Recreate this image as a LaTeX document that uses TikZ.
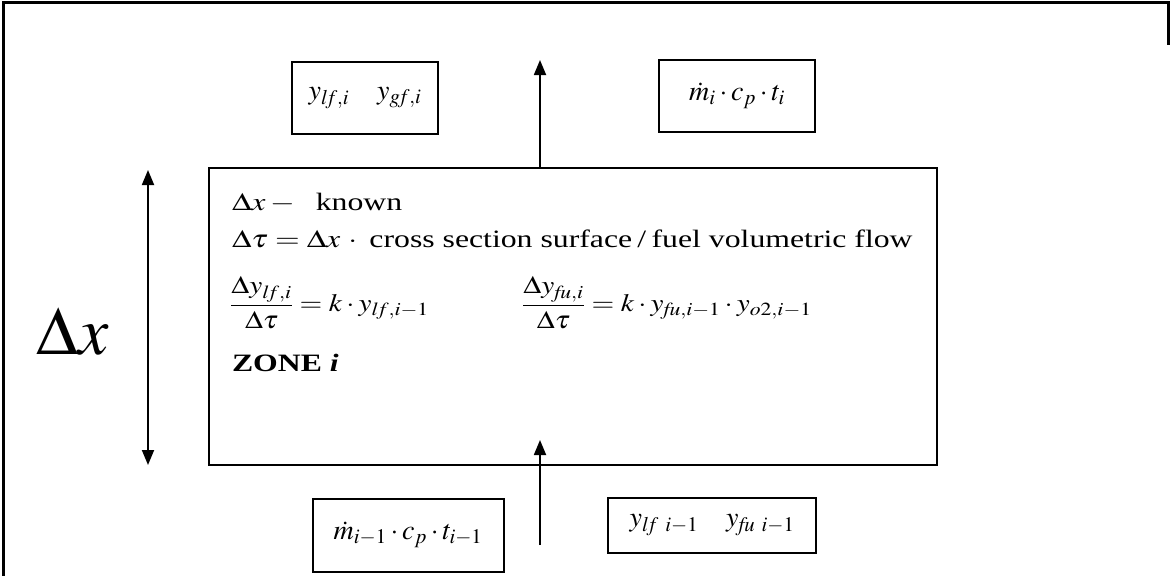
\documentclass[tikz,border=0pt]{standalone}
\usepackage{amsmath}
\usepackage{amssymb}
\usepackage{mathptmx}
\usepackage{fontspec}
\setmainfont{Liberation Serif}
\usepackage{graphicx}
\usepackage{tikz}
\usetikzlibrary{arrows.meta, positioning}
\newcommand{\hwide}[2][1.27]{\scalebox{#1}[1]{#2}}

\begin{document}
\begin{tikzpicture}[
    x=1pt, y=-1pt,
    every node/.style={inner sep=0pt, outer sep=0pt},
    databox/.style={draw, line width=2pt, font=\fontsize{28}{32}\selectfont,
                    align=center},
    zonebox/.style={draw, line width=2pt, anchor=north west,
                    minimum width=728pt, minimum height=297pt},
    zoneline/.style={anchor=base west, font=\fontsize{25}{30}\selectfont},
    arrow/.style={-{Triangle[length=15pt, width=12pt]}, line width=1.8pt},
    dblarrow/.style={{Triangle[length=15pt, width=12pt]}-{Triangle[length=15pt, width=12pt]},
                     line width=1.8pt},
]
\useasboundingbox (0,0) rectangle (1171,576);
% frame
\draw[line width=3pt] (3,576) -- (3,2) -- (1168,2) -- (1168,45);

\node[zonebox] (zone) at (209,168) {};
\node[zoneline] (known) at (232,210) {\hwide{$\Delta x -{}$\; known}};
\node[zoneline] (dtau) at (232,247)
    {\hwide{$\Delta\tau = \Delta x\,\cdot{}$ cross section surface\,/\,fuel volumetric flow}};
\node[zoneline, anchor=west] (rate1) at (230,303)
    {\hwide[1.17]{$\dfrac{\Delta y_{l\!f,i}}{\Delta\tau} = k\cdot y_{l\!f,i-1}$}};
\node[zoneline, anchor=west] (rate2) at (522,303)
    {\hwide[1.17]{$\dfrac{\Delta y_{\mathit{fu},i}}{\Delta\tau} = k\cdot y_{\mathit{fu},i-1}\cdot y_{o2,i-1}$}};
\node[zoneline] (zonename) at (232,371) {\hwide{\textbf{ZONE \textit{i}}}};

\node[databox, minimum width=146pt, minimum height=72pt] (yout) at (365,98)
    {$y_{l\!f,i}\quad y_{g\!f,i}$};
\node[databox, minimum width=156pt, minimum height=72pt] (heatout) at (737,96)
    {$\dot m_i\cdot c_p\cdot t_i$};
\node[databox, minimum width=191pt, minimum height=73pt] (heatin) at (408,535)
    {$\dot m_{i-1}\cdot c_p\cdot t_{i-1}$};
\node[databox, minimum width=208pt, minimum height=55pt] (yin) at (712,525)
    {$y_{l\!f\ i-1}\quad y_{\mathit{fu}\ i-1}$};

\coordinate (outtip) at (540,60);
\coordinate (intail) at (540,545);
\coordinate (intip) at (540,440);
\coordinate (dxtop) at (148,170);
\coordinate (dxbot) at (148,465);

\draw[arrow] (zone.north -| outtip) -- (outtip);
\draw[arrow] (intail) -- (intip);
\draw[dblarrow] (dxbot) -- (dxtop);
\node[font=\fontsize{68}{72}\selectfont] (dxlabel) at (73,332) {$\Delta x$};
\end{tikzpicture}
\end{document}
